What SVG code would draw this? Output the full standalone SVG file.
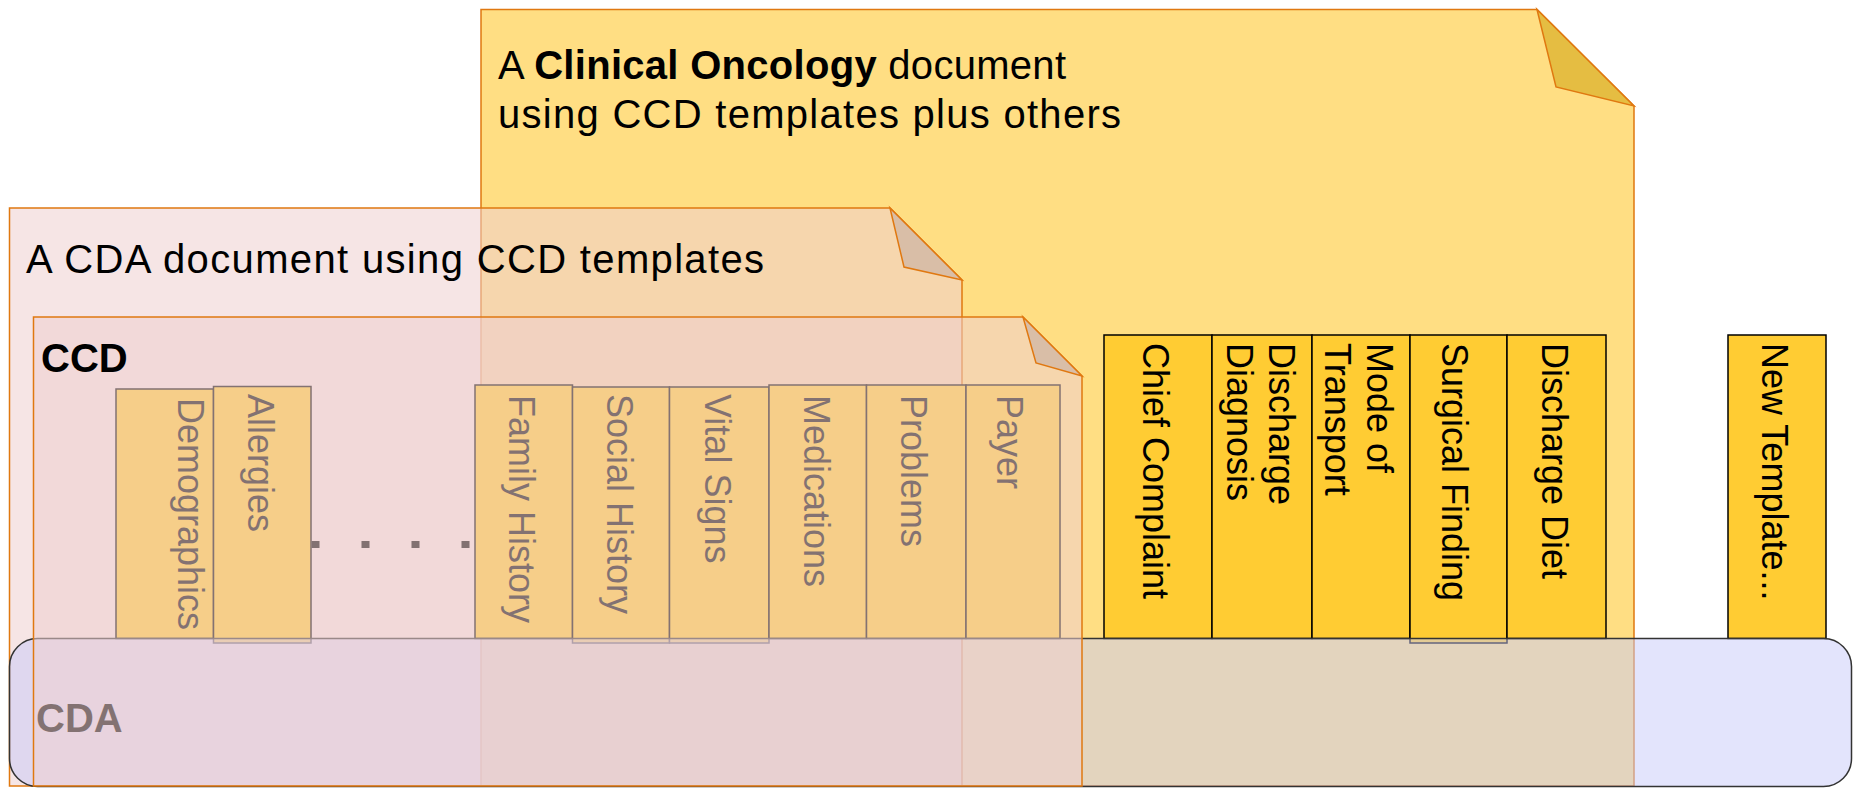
<svg xmlns="http://www.w3.org/2000/svg" width="1853" height="789" viewBox="0 0 1853 789">
<style>
.edge{stroke:#E07810;stroke-width:1.5;stroke-linejoin:miter}
.pink{fill:#EFD0D0;fill-opacity:0.55}
.fold{fill:#D9BEA7}
.title{font-family:"Liberation Sans",Arial,sans-serif;font-size:40px;fill:#000}
.tpl rect{fill:#FFCC33;stroke:#000;stroke-width:1.5}
.tpl text{font-family:"Liberation Sans",Arial,sans-serif;font-size:36px;fill:#000}
</style>
<rect width="1853" height="789" fill="#FFFFFF"/>

<g id="oncology-doc">
  <path class="edge" d="M481,9.5 L1537,9.5 L1634,106 L1634,786 L481,786 Z" fill="#FFDE83"/>
  <path class="edge" d="M1537,9.5 L1556,87 L1634,106 Z" fill="#E5BD42" stroke-width="1"/>
  <text class="title" x="498" y="79" textLength="568">A <tspan font-weight="bold">Clinical Oncology</tspan> document</text>
  <text class="title" x="498" y="128" textLength="623">using CCD templates plus others</text>
</g>

<g id="cda-doc">
  <path class="edge pink" d="M9.5,208 L890,208 L962,280 L962,786 L9.5,786 Z"/>
  <path class="edge fold" d="M890,208 L904,267 L962,280 Z" stroke-width="1"/>
  <text class="title" x="26" y="273" textLength="738">A CDA document using CCD templates</text>
</g>

<g id="templates" class="tpl">
  <g id="tpl-demographics"><rect x="116" y="389" width="97.5" height="249.5"/><text transform="translate(178,398) rotate(90)">Demographics</text></g>
  <g id="tpl-allergies"><rect x="213.5" y="386.5" width="97.5" height="256.5"/><text transform="translate(248,394) rotate(90)">Allergies</text></g>
  <g id="tpl-family-history"><rect x="475" y="385" width="97.5" height="253.5"/><text transform="translate(509,395) rotate(90)">Family History</text></g>
  <g id="tpl-social-history"><rect x="572.5" y="387" width="97" height="256"/><text transform="translate(607,394) rotate(90)">Social History</text></g>
  <g id="tpl-vital-signs"><rect x="669.5" y="387" width="99.5" height="256"/><text transform="translate(705,394) rotate(90)">Vital Signs</text></g>
  <g id="tpl-medications"><rect x="769" y="385" width="97.5" height="253.5"/><text transform="translate(804,395) rotate(90)">Medications</text></g>
  <g id="tpl-problems"><rect x="866.5" y="385" width="99.5" height="253.5"/><text transform="translate(901,395) rotate(90)">Problems</text></g>
  <g id="tpl-payer"><rect x="966" y="385" width="94" height="253.5"/><text transform="translate(997,395) rotate(90)">Payer</text></g>

  <g id="tpl-chief-complaint"><rect x="1104" y="335" width="108" height="303.5"/><text transform="translate(1143,343) rotate(90)">Chief Complaint</text></g>
  <g id="tpl-discharge-diagnosis"><rect x="1212" y="335" width="100" height="303.5"/><text transform="translate(1269,343) rotate(90)"><tspan x="0" y="0">Discharge</tspan><tspan x="0" y="42">Diagnosis</tspan></text></g>
  <g id="tpl-mode-of-transport"><rect x="1312" y="335" width="98" height="303.5"/><text transform="translate(1367,343) rotate(90)"><tspan x="0" y="0">Mode of</tspan><tspan x="0" y="42">Transport</tspan></text></g>
  <g id="tpl-surgical-finding"><rect x="1410" y="335" width="97" height="308"/><text transform="translate(1442,343) rotate(90)">Surgical Finding</text></g>
  <g id="tpl-discharge-diet"><rect x="1507" y="335" width="99" height="303.5"/><text transform="translate(1542,343) rotate(90)">Discharge Diet</text></g>
  <g id="tpl-new-template"><rect x="1728" y="335" width="98" height="303.5"/><text transform="translate(1762,343) rotate(90)">New Template...</text></g>
</g>

<g id="connectors">
  <line x1="311.5" y1="544.5" x2="470" y2="544.5" stroke="#000" stroke-width="7" stroke-dasharray="8 42"/>
</g>

<g id="cda">
  <rect x="9.5" y="638.5" width="1842" height="148" rx="28" ry="28" fill="#C7C9FA" fill-opacity="0.5" stroke="#333" stroke-width="1.5"/>
  <text x="36" y="732" font-family="Liberation Sans, Arial, sans-serif" font-size="40" font-weight="bold" fill="#000">CDA</text>
</g>

<g id="ccd-doc">
  <path class="edge pink" d="M33.5,317 L1023,317 L1082,376 L1082,786 L33.5,786 Z"/>
  <path class="edge fold" d="M1023,317 L1036,363 L1082,376 Z" stroke-width="1"/>
  <text x="41" y="372" font-family="Liberation Sans, Arial, sans-serif" font-size="40" font-weight="bold" fill="#000">CCD</text>
</g>
</svg>
